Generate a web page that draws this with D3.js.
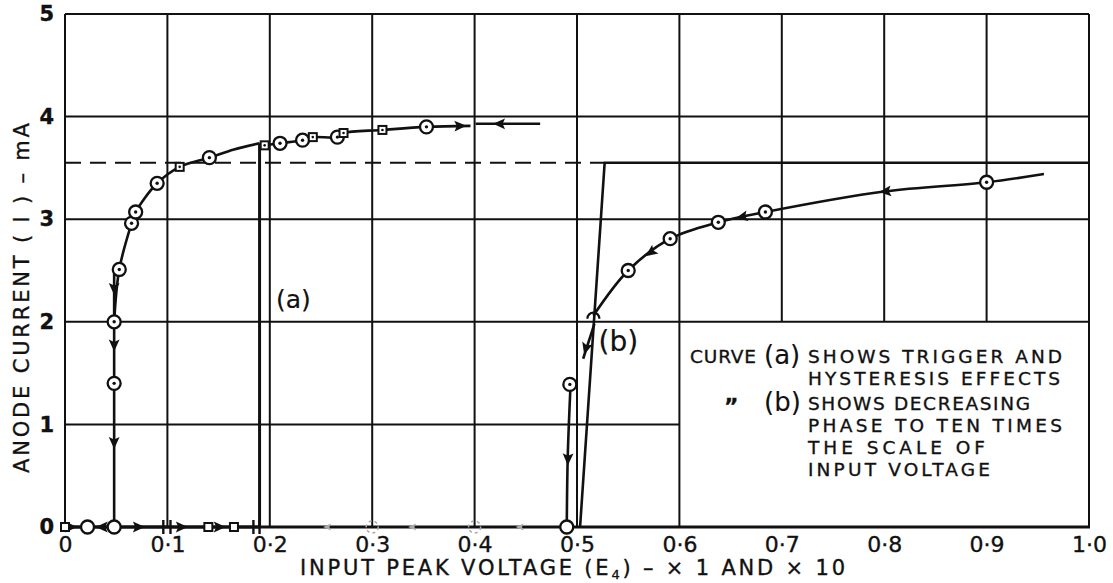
<!DOCTYPE html>
<html>
<head>
<meta charset="utf-8">
<script src="https://cdn.jsdelivr.net/npm/d3@7"></script>
<style>
  html, body { margin: 0; padding: 0; background: #fff; }
  svg { display: block; }
  text { font-family: "DejaVu Sans", sans-serif; fill: #111; stroke: #111; stroke-width: 0.35px; }
</style>
</head>
<body>
<svg id="chart" width="1113" height="583"></svg>
<script>
// ---- axis ticks ----
const xTicks = [0, 0.1, 0.2, 0.3, 0.4, 0.5, 0.6, 0.7, 0.8, 0.9, 1.0];
const yTicks = [0, 1, 2, 3, 4, 5];

// ---- curve (a): trigger and hysteresis ----
const aBaseline = [[0, 0], [0.19, 0]];
const aDrop = [[0.048, 2.51], [0.048, 0]];
const aRise = [[0.048, 2.0], [0.053, 2.51], [0.065, 2.96], [0.069, 3.07], [0.09, 3.35],
               [0.112, 3.51], [0.141, 3.60], [0.165, 3.68], [0.19, 3.74]];
const aJump = [[0.19, 3.74], [0.19, 0]];
const aUpper = [[0.195, 3.72], [0.21, 3.74], [0.232, 3.77], [0.242, 3.80], [0.266, 3.80],
                [0.272, 3.84], [0.31, 3.87], [0.353, 3.90], [0.396, 3.91]];
const aReturn = [[0.401, 3.93], [0.464, 3.93]];
const aCircles = [[0.022, 0], [0.048, 0], [0.048, 1.4], [0.048, 2.0], [0.053, 2.51], [0.065, 2.96],
                  [0.069, 3.07], [0.09, 3.35], [0.141, 3.60], [0.21, 3.74], [0.232, 3.77],
                  [0.266, 3.80], [0.353, 3.90]];
const aSquares = [[0, 0], [0.14, 0], [0.165, 0], [0.112, 3.51], [0.195, 3.72], [0.242, 3.80],
                  [0.272, 3.84], [0.31, 3.87]];
const aBars = [[0.096, 0], [0.103, 0], [0.184, 0], [0.19, 0]];
// arrows: [x tail, y tail, x head, y head]
const aArrows = [[0.0, 0, 0.012, 0], [0.042, 0, 0.03, 0], [0.066, 0, 0.078, 0],
                 [0.108, 0, 0.12, 0], [0.145, 0, 0.157, 0],
                 [0.048, 2.4, 0.048, 2.26], [0.048, 1.85, 0.048, 1.71], [0.048, 0.9, 0.048, 0.76],
                 [0.37, 3.905, 0.392, 3.91], [0.44, 3.93, 0.418, 3.93]];

// ---- curve (b): decreasing phase, ten times scale ----
const bDecrease = [[0.956, 3.44], [0.9, 3.36], [0.8, 3.27], [0.684, 3.07], [0.638, 2.97],
                   [0.591, 2.81], [0.55, 2.50], [0.516, 2.06]];
const bTail = [[0.517, 1.98], [0.506, 1.64]];
const bFall = [[0.494, 1.45], [0.491, 0.7], [0.49, 0]];
const bRise = [[0.503, 0], [0.527, 3.55], [1.0, 3.55]];
const saturation = [[0, 3.55], [0.527, 3.55]];
const bCircles = [[0.9, 3.36], [0.684, 3.07], [0.638, 2.97], [0.591, 2.81], [0.55, 2.50],
                  [0.493, 1.39], [0.49, 0]];
const bArrows = [[0.82, 3.29, 0.795, 3.265], [0.675, 3.05, 0.655, 3.01], [0.585, 2.77, 0.567, 2.64],
                 [0.511, 1.82, 0.507, 1.68], [0.4915, 0.8, 0.491, 0.6]];

// faint traces along the axis
const faintCircles = [[0.3, 0], [0.4, 0]];
const faintArrows = [[0.262, 0, 0.252, 0], [0.345, 0, 0.335, 0], [0.45, 0, 0.44, 0]];

// note lines
const legendLines = [
  { lead: "CURVE", tag: "(a)", text: "SHOWS  TRIGGER  AND" },
  { lead: "", tag: "", text: "HYSTERESIS  EFFECTS" },
  { lead: "\u201D", tag: "(b)", text: "SHOWS  DECREASING" },
  { lead: "", tag: "", text: "PHASE  TO  TEN  TIMES" },
  { lead: "", tag: "", text: "THE  SCALE  OF" },
  { lead: "", tag: "", text: "INPUT  VOLTAGE" }
];

const svg = d3.select("#chart");
const x = d3.scaleLinear().domain([0, 1]).range([65, 1089]);
const y = d3.scaleLinear().domain([0, 5]).range([527, 14]);
const ink = "#111";

// ---- grid ----
const grid = svg.append("g").attr("stroke", ink).attr("stroke-width", 2).attr("fill", "none");
xTicks.forEach(v => {
  const top = 5, bottom = (v > 0.65 && v < 0.95) ? 2 : 0;
  grid.append("line").attr("x1", x(v)).attr("x2", x(v)).attr("y1", y(top)).attr("y2", y(bottom));
});
yTicks.filter(v => v > 0).forEach(v => {
  const right = v === 1 ? 0.6 : 1.0;
  grid.append("line").attr("x1", x(0)).attr("x2", x(right)).attr("y1", y(v)).attr("y2", y(v));
});
svg.append("line").attr("x1", x(0) - 2).attr("x2", x(1) + 1).attr("y1", y(0)).attr("y2", y(0))
  .attr("stroke", ink).attr("stroke-width", 3);

// ---- axes labels via d3 axes ----
const fmt = v => v === 0 ? "0" : d3.format(".1f")(v).replace(".", "\u00B7");
const xAxis = svg.append("g").attr("transform", `translate(0,${y(0)})`)
  .call(d3.axisBottom(x).tickValues(xTicks).tickFormat(fmt).tickSize(0).tickPadding(10));
xAxis.select(".domain").remove();
xAxis.selectAll("text").attr("font-size", 22).attr("fill", ink)
  .attr("font-family", "DejaVu Sans, sans-serif").attr("dy", "0.68em");

const yAxis = svg.append("g").attr("transform", `translate(${x(0)},0)`)
  .call(d3.axisLeft(y).tickValues(yTicks).tickFormat(d3.format("d")).tickSize(0).tickPadding(11));
yAxis.select(".domain").remove();
yAxis.selectAll("text").attr("font-size", 21).attr("font-weight", "bold").attr("fill", ink)
  .attr("font-family", "DejaVu Sans, sans-serif");

// axis titles
svg.append("text").attr("x", 300).attr("y", 575).attr("font-size", 21)
  .attr("textLength", 545).attr("lengthAdjust", "spacing")
  .html('INPUT PEAK VOLTAGE (E<tspan font-size="13" dy="4">4</tspan><tspan dy="-4">) \u2013 \u00D7 1 AND \u00D7 10</tspan>');
svg.append("text").attr("transform", "translate(29,473) rotate(-90)").attr("font-size", 21)
  .attr("textLength", 350).attr("lengthAdjust", "spacing")
  .text("ANODE CURRENT ( I ) \u2013 mA");

// ---- curves ----
const line = d3.line().x(d => x(d[0])).y(d => y(d[1]));
const smooth = d3.line().x(d => x(d[0])).y(d => y(d[1])).curve(d3.curveCatmullRom.alpha(0.5));
const curves = svg.append("g").attr("fill", "none").attr("stroke", ink)
  .attr("stroke-width", 2.6).attr("stroke-linejoin", "round");

curves.append("path").attr("d", line(saturation)).attr("stroke-dasharray", "16,9").attr("stroke-width", 2.2);
curves.append("path").attr("d", line(aBaseline)).attr("stroke-width", 3);
curves.append("path").attr("d", line(aDrop));
curves.append("path").attr("d", smooth(aRise));
curves.append("path").attr("d", line(aJump)).attr("stroke-width", 3);
curves.append("path").attr("d", smooth(aUpper));
curves.append("path").attr("d", line(aReturn));
curves.append("path").attr("d", smooth(bDecrease));
curves.append("path").attr("d", line(bTail));
curves.append("path").attr("d", smooth(bFall));
curves.append("path").attr("d", line(bRise));

// ---- arrowheads ----
function arrowhead(g, a, color, size) {
  const x1 = x(a[0]), y1 = y(a[1]), x2 = x(a[2]), y2 = y(a[3]);
  const ang = Math.atan2(y2 - y1, x2 - x1) * 180 / Math.PI;
  g.append("path").attr("d", `M0,0 L${-size},${-size * 0.45} L${-size * 0.8},0 L${-size},${size * 0.45} Z`)
    .attr("transform", `translate(${x2},${y2}) rotate(${ang})`).attr("fill", color).attr("stroke", "none");
}
const arrows = svg.append("g");
aArrows.concat(bArrows).forEach(a => arrowhead(arrows, a, ink, 12));
faintArrows.forEach(a => arrowhead(arrows, a, "#aaa", 8));

// ---- markers ----
const marks = svg.append("g");
marks.selectAll(".bar").data(aBars).join("line")
  .attr("x1", d => x(d[0])).attr("x2", d => x(d[0]))
  .attr("y1", d => y(d[1]) - 7).attr("y2", d => y(d[1]) + 7)
  .attr("stroke", ink).attr("stroke-width", 2.4);
marks.selectAll(".faint").data(faintCircles).join("circle")
  .attr("cx", d => x(d[0])).attr("cy", d => y(d[1])).attr("r", 6)
  .attr("fill", "none").attr("stroke", "#aaa").attr("stroke-width", 1.5).attr("stroke-dasharray", "3,3");
const allCircles = aCircles.concat(bCircles);
marks.selectAll(".ring").data(allCircles).join("circle")
  .attr("cx", d => x(d[0])).attr("cy", d => y(d[1])).attr("r", 6.5)
  .attr("fill", "#fff").attr("stroke", ink).attr("stroke-width", 2.3);
marks.selectAll(".dot").data(allCircles.filter(d => d[1] > 0)).join("circle")
  .attr("cx", d => x(d[0])).attr("cy", d => y(d[1])).attr("r", 1.7).attr("fill", ink);
marks.selectAll(".sq").data(aSquares).join("rect")
  .attr("x", d => x(d[0]) - 4).attr("y", d => y(d[1]) - 4).attr("width", 8).attr("height", 8)
  .attr("fill", "#fff").attr("stroke", ink).attr("stroke-width", 2);
marks.selectAll(".sqdot").data(aSquares.filter(d => d[1] > 0)).join("circle")
  .attr("cx", d => x(d[0])).attr("cy", d => y(d[1])).attr("r", 1.3).attr("fill", ink);
// small cap where the rising and falling branches of (b) meet
const meet = bDecrease[bDecrease.length - 1];
marks.append("path")
  .attr("d", `M${x(meet[0]) - 6},${y(meet[1]) + 3} A6,6 0 0 1 ${x(meet[0]) + 6},${y(meet[1]) + 3}`)
  .attr("fill", "none").attr("stroke", ink).attr("stroke-width", 2.2);

// ---- curve labels ----
svg.append("text").attr("x", x(0.206)).attr("y", y(2.13)).attr("font-size", 25)
  .style("stroke-width", "0.2px").text("(a)");
svg.append("text").attr("x", x(0.521)).attr("y", y(1.72)).attr("font-size", 28)
  .style("stroke-width", "0.2px").text("(b)");

// ---- note inside the lower-right panel ----
const legendY = [363, 385, 410, 432, 454, 476];
const widths = [254, 252, 222, 254, 177, 182];
const note = svg.append("g");
legendLines.forEach((l, i) => {
  if (l.lead === "CURVE") note.append("text").attr("x", 690).attr("y", legendY[i]).attr("font-size", 18.5)
    .attr("textLength", 66).attr("lengthAdjust", "spacing").text(l.lead);
  else if (l.lead) note.append("text").attr("x", 724).attr("y", legendY[i] + 4).attr("font-size", 22)
    .attr("font-weight", "bold").text(l.lead);
  if (l.tag) note.append("text").attr("x", 764).attr("y", legendY[i] + 1).attr("font-size", 26)
    .style("stroke-width", "0.1px").text(l.tag);
  note.append("text").attr("x", 808).attr("y", legendY[i]).attr("font-size", 18.5)
    .attr("textLength", widths[i]).attr("lengthAdjust", "spacing").text(l.text);
});
</script>
</body>
</html>
